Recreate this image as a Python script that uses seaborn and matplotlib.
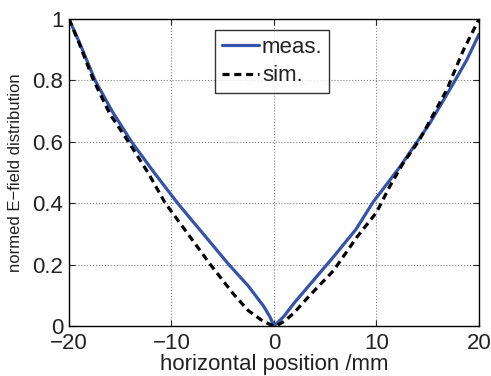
import pandas as pd
import numpy as np

import matplotlib
matplotlib.use("Agg")
import matplotlib.pyplot as plt
import seaborn as sns

sns.set_style("ticks")
plt.rcParams["font.family"] = ["Liberation Sans", "DejaVu Sans"]

meas_x = [-20, -19.0, -17.45, -15.8, -13.9, -11.7, -9.4, -6.9, -4.4, -2.5, -1.0, -0.4, 0,
          0.93, 1.9, 3.5, 5.8, 8.0, 9.7, 11.3, 12.3, 15.2, 17.5, 18.8, 20]
meas_y = [1.0, 0.925, 0.80, 0.70, 0.60, 0.50, 0.40, 0.30, 0.20, 0.13, 0.064, 0.03, 0.0,
          0.03, 0.072, 0.135, 0.225, 0.315, 0.405, 0.475, 0.519, 0.66, 0.79, 0.866, 0.95]

# simulated curve
sim_x = [-20, -19.0, -17.6, -16.0, -14.2, -12.3, -10.6, -8.4, -6.2, -4.0, -2.5, -1.0, 0,
         0.4, 1.0, 1.9, 3.5, 5.8, 8.1, 10.0, 11.3, 12.6, 14.2, 16.85, 18.5, 19.8, 20]
sim_y = [1.0, 0.92, 0.80, 0.69, 0.60, 0.50, 0.40, 0.30, 0.20, 0.106, 0.05, 0.014, 0.0,
         0.004, 0.015, 0.041, 0.10, 0.18, 0.29, 0.37, 0.455, 0.53, 0.606, 0.769, 0.90, 0.986, 1.0]

df = pd.concat([
    pd.DataFrame({"x": meas_x, "y": meas_y, "series": "meas."}),
    pd.DataFrame({"x": sim_x, "y": sim_y, "series": "sim."}),
])

fig = plt.figure(figsize=(4.91, 3.76), dpi=100)
ax = fig.add_axes([0.1405, 0.133, 0.835, 0.8165])

sns.lineplot(data=df, x="x", y="y", hue="series", style="series",
             palette={"meas.": "#3553a8", "sim.": "black"},
             dashes={"meas.": "", "sim.": (2.2, 1.5)},
             linewidth=2.3, sort=False, estimator=None, ax=ax)

ax.set_xlim(-20, 20)
ax.set_ylim(0, 1)
ax.set_xticks([-20, -10, 0, 10, 20])
ax.set_yticks([0, 0.2, 0.4, 0.6, 0.8, 1])
ax.set_yticklabels(["0", "0.2", "0.4", "0.6", "0.8", "1"])
ax.tick_params(direction="in", labelsize=16, length=4, top=True, right=True,
               labelcolor="#222222")
ax.tick_params(axis="x", pad=5)
ax.tick_params(axis="y", pad=4)
ax.grid(True, linestyle=":", color="gray", linewidth=0.8)
for s in ax.spines.values():
    s.set_linewidth(1.0)
    s.set_color("black")

ax.set_xlabel("horizontal position /mm", fontsize=16, labelpad=0, color="#222222")
ax.set_ylabel("normed E\u2212field distribution", fontsize=12, labelpad=7, color="#222222")

leg = ax.legend(loc="upper center", bbox_to_anchor=(0.496, 0.964), fontsize=16,
                frameon=True, fancybox=False, edgecolor="black",
                handlelength=1.65, handletextpad=0.15, borderpad=0.3,
                labelspacing=0.35, borderaxespad=0)
leg.get_frame().set_linewidth(1.0)
for t in leg.get_texts():
    t.set_color("#222222")

fig.savefig("out.png", dpi=100)
